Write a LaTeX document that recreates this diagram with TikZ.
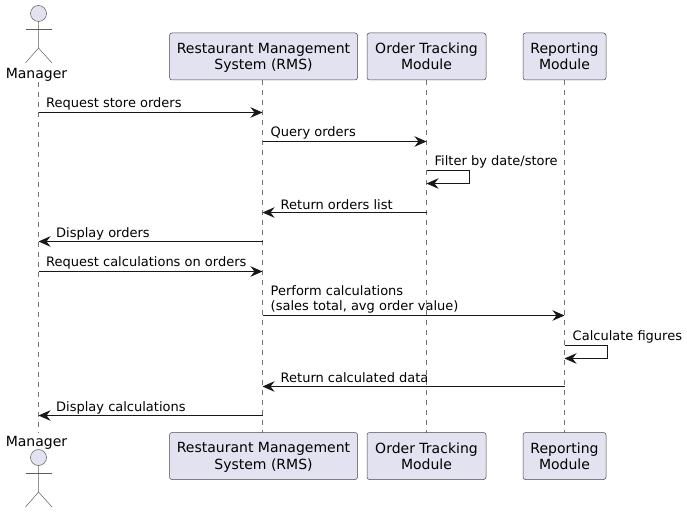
\documentclass[tikz,border=0pt]{standalone}
\usepackage{fontspec}
\setmainfont{DejaVu Sans}
\usetikzlibrary
  {
    arrows.meta,              % filled arrow heads
    positioning,              % place nodes relative to other nodes
  }
\definecolor{boxfill}{HTML}{E2E2F0}
\definecolor{ink}{HTML}{181818}

\begin{document}
\begin{tikzpicture}
    [
      x=1pt,
      y=-1pt,
      module/.style=
        {
          rectangle,
          rounded corners=2.5pt,
          draw=ink!80,
          line width=0.5pt,
          fill=boxfill,
          align=center,
          inner sep=0pt,
          minimum height=47pt,
          text depth=0pt,
          font=\fontsize{14}{16.3}\selectfont,
        },
      lifeline/.style=
        {
          draw=ink!60,
          line width=0.5pt,
          dash pattern=on 5pt off 5pt,
        },
      message/.style=
        {
          draw=ink,
          line width=1pt,
          -{Stealth[length=12pt,width=10.5pt,inset=4pt]},
        },
      msglabel/.style=
        {
          anchor=base west,
          inner sep=0pt,
          align=left,
          font=\fontsize{13}{15.2}\selectfont,
        },
      actorname/.style=
        {
          inner sep=0pt,
          font=\fontsize{14}{16}\selectfont,
        },
      head/.style=
        {
          circle,
          draw=ink!70,
          line width=0.5pt,
          fill=boxfill,
          inner sep=0pt,
          minimum size=16pt,
        },
      limb/.style=
        {
          draw=ink!70,
          line width=0.5pt,
        }
    ]
    \useasboundingbox (0,0) rectangle (687,513);

    % lifeline ends
    \coordinate (mgrtop) at (38.5,82);
    \coordinate (mgrbot) at (38.5,433);
    \coordinate (rmstop) at (262.5,80);
    \coordinate (rmsbot) at (262.5,433);
    \coordinate (ordtop) at (426.5,80);
    \coordinate (ordbot) at (426.5,433);
    \coordinate (reptop) at (564.5,80);
    \coordinate (repbot) at (564.5,433);

    \draw [lifeline] (mgrtop) -- (mgrbot);
    \draw [lifeline] (rmstop) -- (rmsbot);
    \draw [lifeline] (ordtop) -- (ordbot);
    \draw [lifeline] (reptop) -- (repbot);

    % participants, top row
    \node (rms) [module, minimum width=188pt] at (263.5,56.5) {Restaurant Management\\System (RMS)};
    \node (ord) [module, minimum width=119pt] at (426.5,56.5) {Order Tracking\\Module};
    \node (rep) [module, minimum width=83pt] at (564.5,56.5) {Reporting\\Module};

    % participants, bottom row
    \node (rmsend) [module, minimum width=188pt] at (263.5,456) {Restaurant Management\\System (RMS)};
    \node (ordend) [module, minimum width=119pt] at (426.5,456) {Order Tracking\\Module};
    \node (repend) [module, minimum width=83pt] at (564.5,456) {Reporting\\Module};

    % actor, top
    \node (mgr) [actorname] at (36.5,75) {Manager};
    \node (headt) [head] at (38.5,13.5) {};
    \coordinate (hipt) at (38.5,48);
    \coordinate (armlt) at (25.5,29);
    \coordinate (armrt) at (52,29);
    \coordinate (leglt) at (25.5,63);
    \coordinate (legrt) at (52,63);
    \draw [limb] (headt) -- (hipt) -- (leglt);
    \draw [limb] (hipt) -- (legrt);
    \draw [limb] (armlt) -- (armrt);

    % actor, bottom
    \node (mgrend) [actorname] at (36.5,443) {Manager};
    \node (headb) [head] at (38.5,457.5) {};
    \coordinate (hipb) at (38.5,492);
    \coordinate (armlb) at (25.5,473);
    \coordinate (armrb) at (52,473);
    \coordinate (leglb) at (25.5,507);
    \coordinate (legrb) at (52,507);
    \draw [limb] (headb) -- (hipb) -- (leglb);
    \draw [limb] (hipb) -- (legrb);
    \draw [limb] (armlb) -- (armrb);

    % message ends on the lifelines
    \foreach \name/\ypos in {a/112.5, b/141.5, c/170.5, d/183.5, e/212.5, f/241.5, g/271.5, h/315.5, i/345.5, j/358.5, k/386.5, l/415.5}
      {
        \coordinate (mgr\name) at (38.5,\ypos);
        \coordinate (rms\name) at (262.5,\ypos);
        \coordinate (ord\name) at (426.5,\ypos);
        \coordinate (rep\name) at (564.5,\ypos);
      }
    \coordinate (ordloop1) at (469.5,170.5);
    \coordinate (ordloop2) at (469.5,183.5);
    \coordinate (reploop1) at (607.5,345.5);
    \coordinate (reploop2) at (607.5,358.5);

    \draw [message] (mgra) -- (rmsa);
    \draw [message] (rmsb) -- (ordb);
    \draw [message] (ordc) -- (ordloop1) -- (ordloop2) -- (ordd);
    \draw [message] (orde) -- (rmse);
    \draw [message] (rmsf) -- (mgrf);
    \draw [message] (mgrg) -- (rmsg);
    \draw [message] (rmsh) -- (reph);
    \draw [message] (repi) -- (reploop1) -- (reploop2) -- (repj);
    \draw [message] (repk) -- (rmsk);
    \draw [message] (rmsl) -- (mgrl);

    % message texts
    \node (t1) [msglabel] at (46,108) {Request store orders};
    \node (t2) [msglabel] at (270.5,137) {Query orders};
    \node (t3) [msglabel] at (434.5,166) {Filter by date/store};
    \node (t4) [msglabel] at (280.5,209) {Return orders list};
    \node (t5) [msglabel] at (56,237.5) {Display orders};
    \node (t6) [msglabel] at (46,266.5) {Request calculations on orders};
    \node (t7) [msglabel] at (270.5,310.5) {Perform calculations\\(sales total, avg order value)};
    \node (t8) [msglabel] at (572.5,340.5) {Calculate figures};
    \node (t9) [msglabel] at (280.5,382.5) {Return calculated data};
    \node (t10) [msglabel] at (56,411.5) {Display calculations};
\end{tikzpicture}
\end{document}
